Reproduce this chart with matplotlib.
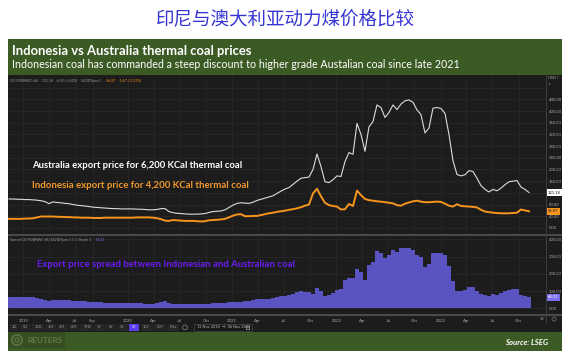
import matplotlib
matplotlib.use('Agg')
import matplotlib.pyplot as plt
import matplotlib.dates as mdates
import matplotlib.transforms as mtransforms
from matplotlib.patches import Rectangle, Circle
import pandas as pd
import numpy as np

# ---------------- data ----------------
dates = pd.date_range('2018-11-12', periods=131, freq='14D')

aus = [99, 99, 98, 98, 97, 97, 96, 95, 93, 90,
       83, 89, 87, 86, 84, 83, 80, 78, 76, 75,
       73, 71, 70, 69, 68, 67, 66, 66, 65, 65,
       65, 65, 64, 64, 63, 62, 62, 63, 66, 66,
       56, 52, 50, 49, 48, 47, 47, 47, 48, 49,
       53, 56, 57, 58, 62, 70, 78, 84, 86, 85,
       84, 88, 94, 98, 102, 106, 110, 118, 126, 133,
       138, 149, 160, 170, 172, 174, 200, 253, 210, 158,
       155, 165, 178, 176, 227, 258, 252, 358, 320, 262,
       346, 364, 421, 412, 378, 395, 421, 405, 424, 435,
       438, 430, 404, 388, 325, 342, 410, 412, 409, 392,
       320, 230, 183, 178, 182, 196, 193, 170, 145, 132,
       123, 132, 127, 136, 148, 158, 160, 162, 140, 132,
       121.18]

indo = [31, 31, 31, 31, 32, 32, 33, 36, 39, 39,
        39, 39, 38, 38, 37, 37, 36, 36, 35, 35,
        35, 34, 34, 34, 35, 35, 35, 35, 35, 35,
        35, 35, 36, 36, 36, 36, 35, 33, 30, 25,
        24, 27, 26, 25, 24, 24, 24, 23, 22, 23,
        26, 27, 28, 29, 31, 36, 42, 46, 47, 40,
        40, 41, 41, 44, 47, 50, 52, 55, 57, 59,
        62, 64, 67, 71, 76, 80, 118, 134, 108, 86,
        78, 75, 73, 63, 64, 82, 75, 128, 112, 99,
        95, 93, 91, 90, 88, 86, 84, 78, 76, 83,
        87, 91, 93, 90, 88, 88, 89, 90, 89, 83,
        76, 73, 81, 75, 74, 73, 72, 70, 62, 56,
        54, 52, 51, 50, 50, 50, 51, 52, 63, 60,
        56.87]

spread = np.array(aus) - np.array(indo)

tick_dates = ['2019-01-01', '2019-04-01', '2019-07-01', '2019-09-01',
              '2020-01-01', '2020-04-01', '2020-07-01', '2020-10-01',
              '2021-01-01', '2021-04-01', '2021-07-01', '2021-10-01',
              '2022-01-01', '2022-04-01', '2022-07-01', '2022-10-01',
              '2023-01-01', '2023-04-01', '2023-07-01', '2023-10-01']
tick_labels = ['2019', 'Apr', 'Jul', 'Sep', '2020', 'Apr', 'Jul', 'Oct',
               '2021', 'Apr', 'Jul', 'Oct', '2022', 'Apr', 'Jul', 'Oct',
               '2023', 'Apr', 'Jul', 'Oct']
top_grid = list(range(0, 481, 40))
top_hidden = [120, 480]
bottom_grid = [0, 100, 200, 300, 400]
buttons = ['1D', '5D', '10D', '1M', '3M', '6M', 'YTD', '1Y', '2Y', '3Y', '5Y', '10Y', '20Y', 'Max']
active_button = '5Y'

title_cn = '印尼与澳大利亚动力煤价格比较'
title = 'Indonesia vs Australia thermal coal prices'
subtitle = 'Indonesian coal has commanded a steep discount to higher grade Austalian coal since late 2021'

# ---------------- layout ----------------
W, H = 571, 357
fig = plt.figure(figsize=(W / 100, H / 100), dpi=100)
fig.patch.set_facecolor('white')
FONT = ['Lato', 'DejaVu Sans']
SMALL = ['Lato', 'DejaVu Sans']
renderer = fig.canvas.get_renderer()


def R(x0, y0, x1, y1):
    return [x0 / W, 1 - y1 / H, (x1 - x0) / W, (y1 - y0) / H]


def ftext(x, y, s, **kw):
    kw.setdefault('family', FONT)
    return fig.text(x / W, 1 - y / H, s, **kw)


def fit(x, y, s, width, size, **kw):
    t = ftext(x, y, s, fontsize=size, **kw)
    bb = t.get_window_extent(renderer)
    t.set_fontsize(size * width / bb.width)
    return t


bg = fig.add_axes([0, 0, 1, 1], zorder=-5)
bg.set_xlim(0, W)
bg.set_ylim(H, 0)
bg.axis('off')

green = '#3b5a24'
dark = '#1c1c1c'
bg.add_patch(Rectangle((8, 38.5), 554, 312.5, color=green, lw=0))
bg.add_patch(Rectangle((8, 74.5), 554, 257.5, color=dark, lw=0))
bg.plot([8, 562], [234.7, 234.7], color='#4a4a4a', lw=1.5, solid_capstyle='butt')
bg.plot([8, 562], [314.6, 314.6], color='#4a4a4a', lw=1.5, solid_capstyle='butt')
bg.plot([546, 546], [75, 323], color='#3c3c3c', lw=0.8)

# buttons
xb = 8
for b in buttons:
    w = 8.5 + 1.6 * len(b)
    fc = '#5b3cf0' if b == active_button else '#262626'
    bg.add_patch(Rectangle((xb + 0.6, 323.8), w - 1.2, 7.2, color=fc, lw=0))
    bg.text(xb + w / 2, 327.5, b, fontsize=2.8, color='#e0e0e0' if b == active_button else '#9a9a9a',
            ha='center', va='center', family=SMALL)
    xb += w
bg.add_patch(Circle((185, 327.4), 2.4, fill=False, ec='#8a8a8a', lw=0.5))
bg.add_patch(Rectangle((194, 323.6), 58, 7.6, fc='#181818', ec='#4a4a4a', lw=0.5))
bg.text(197, 327.5, '12 Nov 2018  \u2192  06 Nov 2023', fontsize=2.8, color='#bbbbbb',
        ha='left', va='center', family=SMALL)
bg.add_patch(Rectangle((245.5, 325.5), 3.5, 3.8, fill=False, ec='#aaaaaa', lw=0.5))
bg.text(542, 319, '15', fontsize=3, color='#aaaaaa', ha='center', va='center', family=SMALL)
bg.add_patch(Circle((554, 319), 2.0, fill=False, ec='#777777', lw=0.5))

# reuters logo area
bg.add_patch(Rectangle((8, 332), 57, 16, color='#354f21', lw=0))
bg.add_patch(Circle((17, 340), 5.2, fill=False, ec='#5b7446', lw=1.2))
bg.add_patch(Circle((17, 340), 2.2, fill=False, ec='#5b7446', lw=0.9))

# USD/t label
bg.text(548.5, 78, 'USD /', fontsize=2.8, color='#aaaaaa', ha='left', va='center', family=SMALL)
bg.text(548.5, 84, 't', fontsize=2.8, color='#aaaaaa', ha='left', va='center', family=SMALL)

# ---------------- axes ----------------
d0 = mdates.date2num(pd.Timestamp('2018-11-12'))
px_day = 0.2857
xlim = (d0 - 1 / px_day, d0 + (546 - 9) / px_day)
tick_nums = [mdates.date2num(pd.Timestamp(t)) for t in tick_dates]

ax1 = fig.add_axes(R(8, 76, 546, 232))
ax2 = fig.add_axes(R(8, 237, 546, 309))
for ax in (ax1, ax2):
    ax.set_facecolor('none')
    for s in ax.spines.values():
        s.set_visible(False)
    ax.set_xlim(*xlim)
    ax.set_xticks(tick_nums)
    ax.grid(True, color='#2a2a2a', lw=0.5)
    ax.set_axisbelow(True)
    ax.yaxis.tick_right()
    ax.tick_params(axis='y', length=0, pad=2, labelsize=3, labelcolor='#aaaaaa')
    ax.tick_params(axis='x', length=0)

ax1.set_xticklabels([])
ax1.set_ylim(-14, 520)
ax1.set_yticks(top_grid)
ax1.set_yticklabels(['' if v in top_hidden else f'{v:.2f}' for v in top_grid], family=SMALL)
ax1.plot(dates, aus, color='#dcdcdc', lw=0.8)
ax1.plot(dates, indo, color='#f7941d', lw=1.4)

ax2.set_ylim(-4, 413)
ax2.set_yticks(bottom_grid)
ax2.set_yticklabels([f'{v:.2f}' for v in bottom_grid], family=SMALL)
ax2.set_xticklabels(tick_labels, family=SMALL)
ax2.tick_params(axis='x', pad=7.3, labelsize=3.1, labelcolor='#aaaaaa')
ax2.bar(dates, spread, width=11, color='#5a54c2', lw=0)

# last value boxes
tr1 = mtransforms.blended_transform_factory(ax1.transAxes, ax1.transData)
ax1.text(1.004, aus[-1], f'{aus[-1]:.2f}', transform=tr1, fontsize=3, color='#111111',
         ha='left', va='center', family=SMALL, clip_on=False,
         bbox=dict(boxstyle='square,pad=0.35', fc='white', ec='none'))
ax1.text(1.004, indo[-1], f'{indo[-1]:.2f}', transform=tr1, fontsize=3, color='#222222',
         ha='left', va='center', family=SMALL, clip_on=False,
         bbox=dict(boxstyle='square,pad=0.35', fc='#f7941d', ec='none'))
tr2 = mtransforms.blended_transform_factory(ax2.transAxes, ax2.transData)
ax2.text(1.004, spread[-1], f'{spread[-1]:.2f}', transform=tr2, fontsize=3, color='white',
         ha='left', va='center', family=SMALL, clip_on=False,
         bbox=dict(boxstyle='square,pad=0.35', fc='#7b6ff0', ec='none'))

# ---------------- texts ----------------
fit(156, 19, title_cn, 260, 13.4, color='#3535d5', ha='left', va='center',
    family=['Noto Sans CJK SC', 'DejaVu Sans'])
fit(12, 50.7, title, 239, 8.5, color='white', fontweight='bold', ha='left', va='center')
fit(12, 64.5, subtitle, 448, 6.8, color='white', ha='left', va='center')

fit(10, 80.7, f'CO-FOBNWC-AU    {aus[-1]:.2f}   -6.95 (-5.42%)    S42IDTpmc1',
    93, 2.6, color='#9a9a9a', ha='left', va='center', family=SMALL)
fit(106, 80.7, f'{indo[-1]:.2f}   -1.47 (-2.52%)', 35, 2.6, color='#f7941d',
    ha='left', va='center', family=SMALL)
fit(10, 240, 'Spread CO-FOBNWC-AU S42IDTpmc1 1 1 Simple 1', 82, 2.6, color='#9a9a9a',
    ha='left', va='center', family=SMALL)
ftext(96, 240, f'{spread[-1]:.2f}', fontsize=2.6, color='#7b6ff0', ha='left', va='center',
      family=SMALL)

fit(32.3, 166, 'Australia export price for 6,200 KCal thermal coal', 210, 6.5,
    color='white', fontweight='bold', ha='left', va='center')
fit(32.3, 186, 'Indonesia export price for 4,200 KCal thermal coal', 214, 6.5,
    color='#f39a2c', fontweight='bold', ha='left', va='center')
fit(36.7, 264.3, 'Export price spread between Indonesian and Australian coal', 257, 6.5,
    color='#6b1cf2', fontweight='bold', ha='left', va='center')

fit(27, 340.2, 'REUTERS', 35, 5.6, color='#5f7a49', ha='left', va='center', fontweight='bold')
fit(548, 342.3, 'Source: LSEG', 43, 5.8, color='white', fontweight='bold',
    style='italic', ha='right', va='center')

fig.savefig('out.png', dpi=100, facecolor='white')
